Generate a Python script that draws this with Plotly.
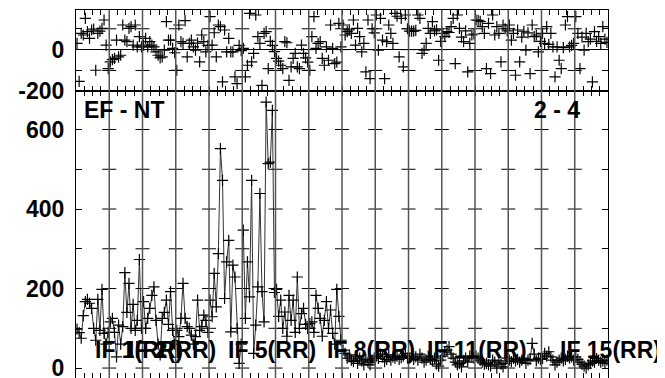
import plotly.graph_objects as go
from plotly.subplots import make_subplots

chan_per_if = 16
n_if = 16

# phase (deg) per IF, 16 channels each
phase_if1 = [30, -152, 78, 70, 150, 86, 54, 94, 99, -99, 78, 89, 102, 142, 22, -91]
phase_if2 = [-59, -48, -42, 46, -35, -27, 118, 46, 38, 102, 110, 22, 118, 13, 62, 13]
phase_if3 = [22, 54, 13, 38, 22, 13, -11, -27, -40, -35, -2, 134, 46, 46, 6, -15]
phase_if4 = [-99, 118, 38, 30, 139, -35, 30, 46, 13, -2, 31, -59, 70, 38, -11, 20]
phase_if5 = [158, 22, 81, -35, 118, 110, -155, 94, -11, 54, -11, -11, -131, -163, 20, -5]
phase_if6 = [6, -131, -75, 174, -59, -18, 166, 62, 30, -171, 78, 86, -91, 40, 20, -10]
phase_if7 = [-42, -55, -75, -91, 38, 33, -147, -83, -42, -18, -83, -91, 22, -18, -40, -60]
phase_if8 = [-99, 62, 158, 6, 30, 38, -42, -75, 13, -51, 118, 6, -67, -60, 126, 13]
phase_if9 = [118, 70, 86, 95, 78, 142, 22, 102, 62, -11, 30, -107, 142, -139, 100, 80]
phase_if10 = [166, -2, 150, 46, -139, 38, 118, 78, 30, 174, 160, -35, 150, -83, 166, 100]
phase_if11 = [89, 89, 89, 92, 166, 150, -18, -2, 30, 102, 78, 134, 90, 95, -51, 40]
phase_if12 = [78, 62, 86, 82, 110, 150, -67, 166, 102, 60, 38, 90, -107, 30, 70, 75]
phase_if13 = [142, 140, 135, 110, 78, -91, 126, -115, 166, 70, 110, 78, -59, 118, 100, 90]
phase_if14 = [118, 46, 78, -123, 94, -59, 60, 88, -2, 80, -115, 118, 62, 70, -11, 40]
phase_if15 = [78, 30, 110, 25, 78, 13, -131, 13, -51, -91, 10, 118, 158, 13, 20, 30]
phase_if16 = [158, 78, -91, 60, -2, 78, 38, 50, -155, 86, 40, 62, 30, 110, 50, 35]

# amplitude per IF
amp_if1 = [98, 89, 75, 132, 167, 173, 163, 150, 100, 70, 173, 95, 198, 87, 60, 90]
amp_if2 = [116, 125, 90, 28, 108, 60, 104, 240, 140, 213, 100, 160, 95, 120, 273, 100]
amp_if3 = [167, 100, 125, 150, 183, 204, 120, 60, 33, 125, 140, 171, 110, 192, 95, 60]
amp_if4 = [95, 79, 125, 213, 125, 104, 100, 83, 60, 79, 171, 95, 104, 133, 120, 90]
amp_if5 = [171, 129, 238, 154, 288, 552, 472, 175, 267, 321, 91, 259, 229, 100, 12, 60]
amp_if6 = [347, 125, 267, 179, 472, 37, 108, 204, 439, 192, 116, 669, 514, 518, 648, 190]
amp_if7 = [198, 130, 171, 100, 141, 80, 183, 120, 171, 90, 229, 100, 137, 150, 110, 100]
amp_if8 = [112, 116, 90, 183, 150, 125, 80, 120, 167, 100, 146, 87, 60, 198, 130, 70]
amp_if9 = [45, 37, 25, 33, 20, 16, 30, 12, 25, 18, 8, 22, 15, 8, 20, 25]
amp_if10 = [30, 24, 35, 28, 16, 22, 33, 20, 28, 25, 30, 22, 26, 30, 37, 25]
amp_if11 = [25, 30, 22, 28, 20, 35, 25, 15, 20, 30, 22, 18, 25, 10, 5, 20]
amp_if12 = [30, 40, 45, 54, 35, 25, 15, 8, 12, 3, 18, 25, 15, 30, 28, 25]
amp_if13 = [30, 25, 20, 15, 10, 12, 8, 5, 20, 15, 0, 18, 10, 3, 12, 25]
amp_if14 = [20, 16, 24, 18, 22, 15, 20, 25, 12, 20, 22, 62, 35, 18, 25, 22]
amp_if15 = [24, 37, 30, 41, 28, 20, 8, 15, 20, 25, 18, 22, 30, 25, 28, 20]
amp_if16 = [28, 22, 15, 10, 5, 0, 8, 12, 18, 15, 24, 20, 15, 18, 12, 20]

phase_ticks = [-200, -100, 0, 100]
phase_ticktext = ["-200", "", "0", ""]
amp_ticks = [0, 100, 200, 300, 400, 500, 600]
amp_ticktext = ["0", "", "200", "", "400", "", "600"]

label_ifs = [1, 2, 5, 8, 11, 15]
label_texts = ["IF 1(RR)", "IF 2(RR)", "IF 5(RR)", "IF 8(RR)", "IF 11(RR)", "IF 15(RR)"]
baseline_name = "EF - NT"
antenna_pair = "2 - 4"

phase_by_if = [phase_if1, phase_if2, phase_if3, phase_if4, phase_if5, phase_if6,
               phase_if7, phase_if8, phase_if9, phase_if10, phase_if11, phase_if12,
               phase_if13, phase_if14, phase_if15, phase_if16]
amp_by_if = [amp_if1, amp_if2, amp_if3, amp_if4, amp_if5, amp_if6, amp_if7, amp_if8,
             amp_if9, amp_if10, amp_if11, amp_if12, amp_if13, amp_if14, amp_if15, amp_if16]

FONT = "Liberation Sans"
bold = dict(family=FONT, size=23, color="black", weight="bold")
cross = dict(symbol="cross-thin-open", size=8, color="black",
             line=dict(width=1.2, color="black"))

fig = make_subplots(rows=2, cols=1, shared_xaxes=True, vertical_spacing=0,
                    row_heights=[0.221, 0.779])

for k in range(n_if):
    xs = [k * chan_per_if + j + 0.5 for j in range(chan_per_if)]
    fig.add_trace(go.Scatter(x=xs, y=phase_by_if[k], mode="markers", marker=cross,
                             showlegend=False), row=1, col=1)
    fig.add_trace(go.Scatter(x=xs, y=amp_by_if[k], mode="lines+markers", marker=cross,
                             line=dict(color="#333", width=1), showlegend=False), row=2, col=1)

# IF boundaries with little cross ticks
bounds = [k * chan_per_if for k in range(1, n_if)]
for b in bounds:
    fig.add_shape(type="line", xref="x", yref="paper", x0=b, x1=b, y0=0, y1=1,
                  line=dict(color="#555", width=1.5))

tick_mark = dict(symbol="line-ew", size=10, color="black", line=dict(width=1, color="black"))
fig.add_trace(go.Scatter(x=[b for b in bounds for t in phase_ticks],
                         y=[t for b in bounds for t in phase_ticks],
                         mode="markers", marker=tick_mark, showlegend=False), row=1, col=1)
fig.add_trace(go.Scatter(x=[b for b in bounds for t in amp_ticks],
                         y=[t for b in bounds for t in amp_ticks],
                         mode="markers", marker=tick_mark, showlegend=False), row=2, col=1)

xax = dict(range=[0, n_if * chan_per_if], showline=True, linecolor="black", linewidth=1,
           mirror="ticks", ticks="inside", ticklen=5, tickcolor="black", tick0=0, dtick=4,
           showticklabels=False, showgrid=False, zeroline=False, automargin=False)
fig.update_xaxes(**xax)

fig.update_yaxes(range=[-200, 190], tickvals=phase_ticks, ticktext=phase_ticktext,
                 showline=True, linecolor="black", mirror="ticks", ticks="inside",
                 ticklen=6, tickcolor="black", showgrid=False, zeroline=True,
                 zerolinecolor="black", zerolinewidth=1, tickfont=bold,
                 ticklabelstandoff=6, automargin=False, row=1, col=1)
fig.update_yaxes(range=[-25, 696], tickvals=amp_ticks, ticktext=amp_ticktext,
                 showline=True, linecolor="black", mirror="ticks", ticks="inside",
                 ticklen=6, tickcolor="black", showgrid=False, zeroline=False,
                 tickfont=bold, ticklabelstandoff=6, automargin=False, row=2, col=1)

fig.add_annotation(text=baseline_name, xref="x2 domain", yref="y2 domain", x=0.012, y=0.935,
                   xanchor="left", yanchor="middle", showarrow=False, font=bold)
fig.add_annotation(text=antenna_pair, xref="x2 domain", yref="y2 domain", x=0.951, y=0.935,
                   xanchor="right", yanchor="middle", showarrow=False, font=bold)
for n, txt in zip(label_ifs, label_texts):
    fig.add_annotation(text=txt, xref="x2", yref="y2", x=(n - 1) * chan_per_if + chan_per_if / 2,
                       y=46, xanchor="left", yanchor="middle", showarrow=False, font=bold)

# page body adds an 8px offset, so margins are trimmed to keep the frame in place
fig.update_layout(width=665, height=378, margin=dict(l=68, r=65, t=2, b=8),
                  plot_bgcolor="white", paper_bgcolor="white", font=bold)

fig.write_html("out.html")
